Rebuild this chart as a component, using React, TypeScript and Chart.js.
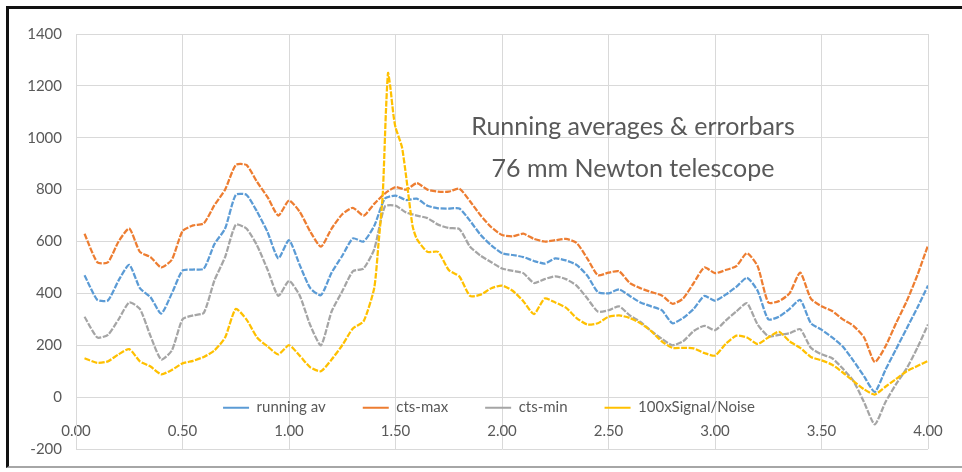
import { useEffect, useRef } from 'react';
import { Chart, registerables } from 'chart.js';

Chart.register(...registerables);

// x positions (shared by the three count series)
const xValues = [
  0.04, 0.10, 0.15, 0.20, 0.25, 0.30, 0.35, 0.40, 0.45, 0.50,
  0.55, 0.60, 0.65, 0.70, 0.75, 0.80, 0.85, 0.90, 0.95, 1.00,
  1.05, 1.10, 1.15, 1.20, 1.25, 1.30, 1.35, 1.40, 1.45, 1.50,
  1.55, 1.60, 1.65, 1.70, 1.75, 1.80, 1.85, 1.90, 1.95, 2.00,
  2.05, 2.10, 2.15, 2.20, 2.25, 2.30, 2.35, 2.40, 2.45, 2.50,
  2.55, 2.60, 2.65, 2.70, 2.75, 2.80, 2.85, 2.90, 2.95, 3.00,
  3.05, 3.10, 3.15, 3.20, 3.25, 3.30, 3.35, 3.40, 3.45, 3.50,
  3.55, 3.60, 3.65, 3.70, 3.75, 3.80, 3.85, 3.90, 3.95, 4.00,
];

const runningAv = [
  470, 375, 373, 450, 510, 420, 385, 322, 400, 488,
  492, 495, 590, 650, 780, 780, 715, 635, 535, 605,
  510, 420, 393, 480, 545, 612, 600, 660, 765, 777,
  760, 765, 738, 728, 727, 727, 680, 625, 585, 555,
  548, 540, 525, 515, 535, 527, 510, 469, 405, 400,
  415, 390, 365, 350, 335, 285, 305, 340, 390, 372,
  395, 425, 460, 410, 300, 310, 340, 375, 285, 260,
  230, 195, 140, 80, 20, 105, 185, 265, 345, 430,
];

const ctsMax = [
  630, 520, 520, 600, 650, 560, 540, 500, 530, 640,
  662, 670, 740, 800, 895, 895, 830, 770, 700, 758,
  715, 638, 580, 650, 705, 730, 700, 745, 785, 810,
  800, 825, 800, 792, 792, 804, 755, 700, 655, 625,
  620, 630, 610, 600, 605, 610, 595, 535, 470, 480,
  485, 440, 420, 405, 392, 360, 380, 440, 500, 478,
  490, 505, 555, 505, 365, 370, 400, 480, 380, 350,
  332, 300, 275, 230, 135, 195, 285, 370, 470, 585,
];

const ctsMin = [
  310, 230, 240, 300, 365, 340, 235, 145, 180, 300,
  315, 325, 450, 540, 665, 650, 585, 490, 390, 448,
  392, 277, 200, 330, 408, 485, 496, 570, 735, 738,
  712, 700, 690, 665, 652, 648, 580, 545, 520, 496,
  487, 478, 440, 455, 466, 455, 430, 381, 330, 335,
  350, 315, 290, 255, 225, 200, 215, 255, 275, 258,
  295, 330, 362, 280, 235, 240, 246, 262, 190, 165,
  150, 110, 62, -20, -105, -20, 50, 111, 190, 280,
];

// signal/noise has extra points around its sharp peak
const snX = [
  0.04, 0.10, 0.15, 0.20, 0.25, 0.30, 0.35, 0.40, 0.45, 0.50,
  0.55, 0.60, 0.65, 0.70, 0.75, 0.80, 0.85, 0.90, 0.95, 1.00,
  1.05, 1.10, 1.15, 1.20, 1.25, 1.30, 1.35, 1.40, 1.42, 1.44,
  1.455, 1.465, 1.475, 1.49, 1.50, 1.53, 1.55, 1.58, 1.60, 1.65,
  1.70, 1.75, 1.80, 1.85, 1.90, 1.95, 2.00, 2.05, 2.10, 2.15,
  2.20, 2.25, 2.30, 2.35, 2.40, 2.45, 2.50, 2.55, 2.60, 2.65,
  2.70, 2.75, 2.80, 2.85, 2.90, 2.95, 3.00, 3.05, 3.10, 3.15,
  3.20, 3.25, 3.30, 3.35, 3.40, 3.45, 3.50, 3.55, 3.60, 3.65,
  3.70, 3.75, 3.80, 3.85, 3.90, 3.95, 4.00,
];

const signalNoise = [
  150, 132, 138, 165, 185, 138, 118, 88, 105, 130,
  140, 155, 180, 230, 340, 300, 230, 195, 165, 200,
  160, 115, 100, 145, 200, 265, 292, 420, 590, 780,
  1100, 1250, 1200, 1090, 1040, 965, 850, 660, 610, 560,
  560, 490, 465, 390, 395, 420, 430, 410, 370, 320,
  380, 365, 345, 305, 280, 285, 310, 315, 305, 285,
  255, 215, 190, 190, 188, 170, 160, 205, 237, 230,
  205, 230, 252, 215, 190, 155, 142, 125, 95, 62,
  30, 10, 40, 70, 100, 120, 140,
];

const seriesNames = ['running av', 'cts-max', 'cts-min', '100xSignal/Noise'];
const seriesColors = ['#5B9BD5', '#ED7D31', '#A5A5A5', '#FFC000'];
const xTickLabels = ['0.00', '0.50', '1.00', '1.50', '2.00', '2.50', '3.00', '3.50', '4.00'];
const titleLines = ['Running averages & errorbars', '76 mm Newton telescope'];

const FONT = 'Lato, "Open Sans", sans-serif';
const TEXT = '#595959';
const GRID = '#D9D9D9';

export default function App() {
  const ref = useRef<HTMLCanvasElement>(null);

  useEffect(() => {
    let chart: Chart | null = null;
    let cancelled = false;
    const pts = (xs: number[], ys: number[]) => xs.map((x, i) => ({ x, y: ys[i] }));

    const placeBoxes = {
      id: 'placeBoxes',
      afterLayout(c: any) {
        const ys = c.scales.y;
        const y0 = ys.getPixelForValue(0);
        // x tick labels sit just below the zero line
        const xs = c.scales.x;
        xs.top = y0 + 25;
        xs.bottom = c.height;
        // legend inside the plot, just under the zero line
        const lg = c.legend;
        if (lg) {
          const pad = lg.options.labels.padding;
          lg.top = y0 + 3 - pad;
          lg.bottom = lg.top + pad + 24;
          lg.left = 16;
          lg.right = 962;
        }
        const t = c.titleBlock;
        if (t) {
          t.top = ys.getPixelForValue(1040) - 21;
          t.bottom = t.top + 90;
          t.left = 304;
          t.right = 962;
        }
      },
    };

    const make = () => {
      if (cancelled || !ref.current) return;
      const common = {
        borderWidth: 2.25,
        borderDash: [6, 1.5],
        pointRadius: 0,
        pointHoverRadius: 0,
        tension: 0.2,
        fill: false,
      };
      const datasets = [
        { ...common, label: seriesNames[0], data: pts(xValues, runningAv), borderColor: seriesColors[0], backgroundColor: seriesColors[0], order: 4 },
        { ...common, label: seriesNames[1], data: pts(xValues, ctsMax), borderColor: seriesColors[1], backgroundColor: seriesColors[1], order: 3 },
        { ...common, label: seriesNames[2], data: pts(xValues, ctsMin), borderColor: seriesColors[2], backgroundColor: seriesColors[2], order: 2 },
        { ...common, label: seriesNames[3], data: pts(snX, signalNoise), borderColor: seriesColors[3], backgroundColor: seriesColors[3], order: 1 },
      ];
      chart = new Chart(ref.current, {
        type: 'line',
        data: { datasets },
        plugins: [placeBoxes],
        options: {
          responsive: false,
          animation: false,
          events: [],
          layout: { padding: { left: 0, right: 34, top: 0, bottom: 0 } },
          scales: {
            x: {
              type: 'linear',
              min: 0,
              max: 4,
              afterFit: (s: any) => { s.height = 0; },
              grid: { color: GRID, lineWidth: 1, drawTicks: false },
              border: { display: false },
              ticks: {
                stepSize: 0.5,
                padding: 0,
                color: TEXT,
                font: { family: FONT, size: 15 },
                maxRotation: 0,
                autoSkip: false,
                callback: (_v: any, i: number) => xTickLabels[i],
              },
            },
            y: {
              min: -200,
              max: 1400,
              afterFit: (s: any) => { s.width = 76; },
              grid: { color: GRID, lineWidth: 1, drawTicks: false },
              border: { display: true, color: GRID },
              ticks: {
                stepSize: 200,
                padding: 14,
                color: TEXT,
                font: { family: FONT, size: 15 },
                callback: (v: any) => String(v),
              },
            },
          },
          plugins: {
            tooltip: { enabled: false },
            title: {
              display: true,
              text: titleLines,
              color: TEXT,
              font: { family: FONT, size: 25, weight: 'normal', lineHeight: 1.68 },
              padding: { top: 0, bottom: -50 },
            },
            legend: {
              display: true,
              position: 'bottom',
              maxHeight: 22,
              labels: {
                boxWidth: 26,
                boxHeight: 2,
                padding: 37,
                color: TEXT,
                font: { family: FONT, size: 15 },
                sort: (a: any, b: any) => a.datasetIndex - b.datasetIndex,
                generateLabels: (c: any) =>
                  (Chart.defaults.plugins.legend.labels.generateLabels as any)(c).map((l: any) => ({
                    ...l,
                    lineDash: [],
                    lineWidth: 0,
                    fillStyle: l.strokeStyle,
                  })),
              },
            },
          },
        } as any,
      });
    };

    const fontsReady = (document as any).fonts
      ? Promise.all([
          (document as any).fonts.load('15px Lato'),
          (document as any).fonts.load('25px Lato'),
        ]).catch(() => null)
      : Promise.resolve(null);
    fontsReady.then(make);

    return () => {
      cancelled = true;
      if (chart) chart.destroy();
    };
  }, []);

  return (
    <div style={{ position: 'fixed', left: 0, top: 0, width: 962, height: 472, background: '#fff', overflow: 'hidden' }}>
      <canvas ref={ref} width={962} height={472} style={{ display: 'block', width: 962, height: 472 }} />
      <div
        style={{
          position: 'absolute',
          left: 6,
          top: 6,
          right: -4,
          height: 462,
          boxSizing: 'border-box',
          borderTop: '3px solid #111',
          borderLeft: '3px solid #111',
          borderBottom: '2px solid #A6A6A6',
          pointerEvents: 'none',
        }}
      />
    </div>
  );
}
